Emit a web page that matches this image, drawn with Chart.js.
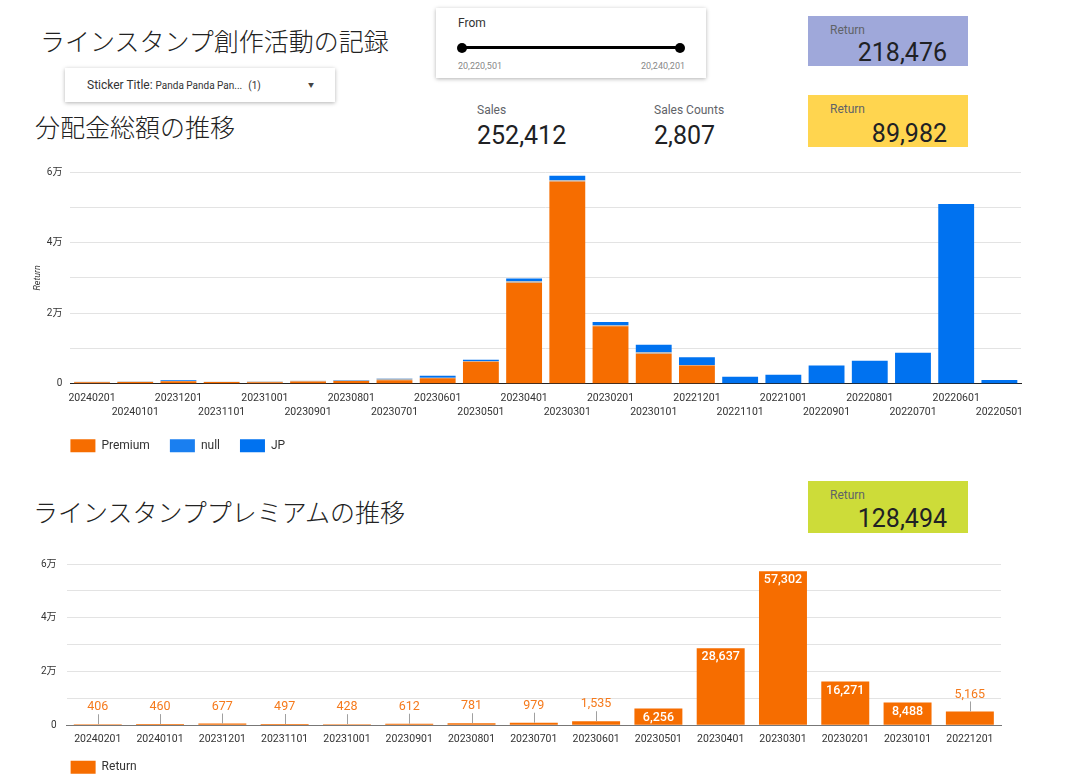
<!DOCTYPE html>
<html lang="ja">
<head>
<meta charset="utf-8">
<title>ラインスタンプ創作活動の記録</title>
<script src="https://cdn.jsdelivr.net/npm/chart.js@4.4.1/dist/chart.umd.min.js"></script>
<style>
  html, body { margin: 0; padding: 0; width: 1074px; height: 783px; overflow: hidden; background: #fff; }
  body { position: relative; font-family: Roboto, "Noto Sans CJK JP", sans-serif; color: #202124; }
  .abs { position: absolute; }
  .heading { font-family: "Noto Sans CJK JP", sans-serif; font-weight: 300; font-size: 25px; line-height: 1; white-space: nowrap; color: #222; }
  .box { background: #fff; box-shadow: 0 1px 4px rgba(0, 0, 0, 0.3); }
  .card { width: 160px; height: 52px; }
  .card .lbl { position: absolute; left: 22px; top: 7px; font-size: 12px; color: #5f6368; }
  .card .val { position: absolute; right: 21px; top: 22px; font-size: 25px; line-height: 1; color: #202124; }
  .kpi .lbl { font-size: 12px; color: #5f6368; }
  .kpi .val { font-size: 25px; line-height: 1; margin-top: 6px; color: #202124; }
  .chartbox { position: absolute; left: 0; width: 1074px; }
</style>
</head>
<body>

<div class="abs heading" style="left:40px; top:28px;">ラインスタンプ創作活動の記録</div>

<div class="abs box" style="left:65px; top:68px; width:270px; height:34px;">
  <div class="abs" style="left:22px; top:10px; font-size:12px; color:#333; white-space:nowrap;">Sticker Title: <span style="font-size:10px;">Panda Panda Pan...</span>&nbsp; <span style="font-size:10px;">(1)</span></div>
  <div class="abs" style="left:243px; top:12px; font-size:6px; color:#444;">&#9660;</div>
</div>

<div class="abs box" style="left:436px; top:8px; width:270px; height:70px;">
  <div class="abs" style="left:22px; top:8px; font-size:12px; color:#333;">From</div>
  <div class="abs" style="left:26px; top:38px; width:218px; height:3px; background:#000;"></div>
  <div class="abs" style="left:21px; top:34.5px; width:10px; height:10px; border-radius:5px; background:#000;"></div>
  <div class="abs" style="left:239px; top:34.5px; width:10px; height:10px; border-radius:5px; background:#000;"></div>
  <div class="abs" style="left:22px; top:53px; font-size:9px; color:#888;">20,220,501</div>
  <div class="abs" style="right:21px; top:53px; font-size:9px; color:#888;">20,240,201</div>
</div>

<div class="abs card" style="left:808px; top:16px; height:50px; background:#9fa8da;">
  <div class="lbl">Return</div>
  <div class="val" style="top:24px;">218,476</div>
</div>

<div class="abs heading" style="left:35px; top:114px;">分配金総額の推移</div>

<div class="abs kpi" style="left:477px; top:103px;">
  <div class="lbl">Sales</div>
  <div class="val">252,412</div>
</div>
<div class="abs kpi" style="left:654px; top:103px;">
  <div class="lbl">Sales Counts</div>
  <div class="val">2,807</div>
</div>

<div class="abs card" style="left:808px; top:95px; background:#ffd54f;">
  <div class="lbl">Return</div>
  <div class="val" style="top:26px;">89,982</div>
</div>

<div class="chartbox" style="top:150px; height:320px;"><canvas id="totalChart"></canvas></div>

<div class="abs heading" style="left:33px; top:499px;">ラインスタンププレミアムの推移</div>

<div class="abs card" style="left:808px; top:481px; background:#cddc39;">
  <div class="lbl">Return</div>
  <div class="val" style="top:25px;">128,494</div>
</div>

<div class="chartbox" style="top:540px; height:256px;"><canvas id="premiumChart"></canvas></div>

<script>
// months, newest first
var months = ['20240201', '20240101', '20231201', '20231101', '20231001', '20230901', '20230801',
    '20230701', '20230601', '20230501', '20230401', '20230301', '20230201', '20230101', '20221201',
    '20221101', '20221001', '20220901', '20220801', '20220701', '20220601', '20220501'];
var premium = [406, 460, 677, 497, 428, 612, 781, 979, 1535, 6256, 28637, 57302, 16271, 8488, 5165,
    0, 0, 0, 0, 0, 0, 0];
var nullReturn = [150, 150, 80, 80, 200, 200, 100, 400, 150, 150, 380, 380, 300, 450, 100,
    0, 0, 0, 0, 0, 0, 0];
var jpReturn = [0, 0, 200, 0, 0, 50, 150, 100, 600, 360, 770, 1240, 950, 2100, 2200,
    2000, 2570, 5140, 6490, 8770, 50900, 1060];

// premium chart only covers up to 20221201
var premiumMonths = months.slice(0, 15);
var premiumReturn = premium.slice(0, 15);

var yTicks = [0, 20000, 40000, 60000];

var ORANGE = '#f66d00';
var BLUE = '#0072f0';
var GREY = '#b3b3b3';

Chart.defaults.font.family = 'Roboto, "Noto Sans CJK JP", sans-serif';
Chart.defaults.color = '#333';
Chart.defaults.animation = false;

function manLabel(v) {
    if (yTicks.indexOf(v) < 0) return '';
    return v === 0 ? '0' : (v / 10000) + '万';
}

// line the legend up with the plot's left edge and put it a fixed gap under the axis
var legendPlace = {
    id: 'legendPlace',
    afterLayout: function (chart, args, opts) {
        var lg = chart.legend;
        var pad = chart.options.plugins.legend.labels.padding;
        var h = lg.bottom - lg.top;
        lg.left = chart.chartArea.left - pad + (opts.dx || 0);
        lg.top = chart.chartArea.bottom + opts.gap - pad - 6.5;
        lg.bottom = lg.top + h;
    }
};

var totalChart = new Chart(document.getElementById('totalChart'), {
    type: 'bar',
    data: {
        labels: months,
        datasets: [{
            label: 'Premium',
            data: premium,
            backgroundColor: ORANGE
        }, {
            label: 'null',
            data: nullReturn,
            backgroundColor: GREY,
            legendColor: '#1a7ff0'
        }, {
            label: 'JP',
            data: jpReturn,
            backgroundColor: BLUE
        }]
    },
    options: {
        responsive: true,
        maintainAspectRatio: false,
        datasets: { bar: { barPercentage: 0.83, categoryPercentage: 1 } },
        layout: { padding: { left: 32, right: 53, top: 22, bottom: 0 } },
        scales: {
            x: {
                stacked: true,
                grid: { display: false, drawTicks: false },
                border: { color: '#222' },
                ticks: {
                    autoSkip: false,
                    maxRotation: 0,
                    padding: 8,
                    font: { size: 10.5, lineHeight: 1.3 },
                    callback: function (v, i) {
                        var l = this.getLabelForValue(v);
                        return i % 2 === 0 ? [l, ''] : ['', l];
                    }
                }
            },
            y: {
                stacked: true,
                min: 0,
                max: 60000,
                grid: { color: '#e3e3e3', drawTicks: false },
                border: { display: false },
                ticks: { stepSize: 10000, padding: 8, font: { size: 10 }, callback: manLabel },
                title: {
                    display: true,
                    text: 'Return',
                    font: { size: 9, style: 'italic' },
                    padding: { top: 0, bottom: -4 }
                }
            }
        },
        plugins: {
            tooltip: { enabled: false },
            legendPlace: { gap: 62 },
            legend: {
                position: 'bottom',
                align: 'start',
                labels: {
                    boxWidth: 25,
                    boxHeight: 13,
                    padding: 20,
                    font: { size: 12 },
                    generateLabels: function (chart) {
                        var items = Chart.defaults.plugins.legend.labels.generateLabels(chart);
                        items.forEach(function (it) {
                            var ds = chart.data.datasets[it.datasetIndex];
                            if (ds.legendColor) it.fillStyle = ds.legendColor;
                            it.strokeStyle = it.fillStyle;
                            it.lineWidth = 0;
                        });
                        return items;
                    }
                }
            }
        }
    },
    plugins: [legendPlace]
});

// value labels: white inside tall bars, orange with a leader line above short ones
var barLabels = {
    id: 'barLabels',
    afterDatasetsDraw: function (chart) {
        var ctx = chart.ctx;
        var meta = chart.getDatasetMeta(0);
        var values = chart.data.datasets[0].data;
        ctx.save();
        ctx.textAlign = 'center';
        ctx.textBaseline = 'middle';
        meta.data.forEach(function (bar, i) {
            var text = values[i].toLocaleString('en-US');
            var h = bar.base - bar.y;
            if (h >= 15) {
                ctx.fillStyle = '#fff';
                ctx.font = '500 12.5px Roboto';
                ctx.fillText(text, bar.x, bar.y + 9);
            } else {
                ctx.strokeStyle = '#a0a0a0';
                ctx.lineWidth = 1;
                ctx.beginPath();
                ctx.moveTo(Math.round(bar.x) + 0.5, bar.y);
                ctx.lineTo(Math.round(bar.x) + 0.5, bar.y - 10);
                ctx.stroke();
                ctx.fillStyle = '#f57a1c';
                ctx.font = '12.5px Roboto';
                ctx.fillText(text, bar.x, bar.y - 17);
            }
        });
        ctx.restore();
    }
};

var premiumChart = new Chart(document.getElementById('premiumChart'), {
    type: 'bar',
    data: {
        labels: premiumMonths,
        datasets: [{
            label: 'Return',
            data: premiumReturn,
            backgroundColor: ORANGE
        }]
    },
    options: {
        responsive: true,
        maintainAspectRatio: false,
        datasets: { bar: { barPercentage: 0.77, categoryPercentage: 1 } },
        layout: { padding: { left: 31, right: 73, top: 24, bottom: 0 } },
        scales: {
            x: {
                grid: { display: false, drawTicks: false },
                border: { color: '#777' },
                ticks: { autoSkip: false, maxRotation: 0, padding: 7, font: { size: 10.5, lineHeight: 1.3 } }
            },
            y: {
                min: 0,
                max: 60000,
                grid: { color: '#e3e3e3', drawTicks: false },
                border: { display: false },
                ticks: { stepSize: 10000, padding: 10, font: { size: 10 }, callback: manLabel }
            }
        },
        plugins: {
            tooltip: { enabled: false },
            legendPlace: { gap: 42, dx: 4 },
            legend: {
                position: 'bottom',
                align: 'start',
                labels: { boxWidth: 25, boxHeight: 13, padding: 20, font: { size: 12 } }
            }
        }
    },
    plugins: [legendPlace, barLabels]
});
</script>
</body>
</html>
